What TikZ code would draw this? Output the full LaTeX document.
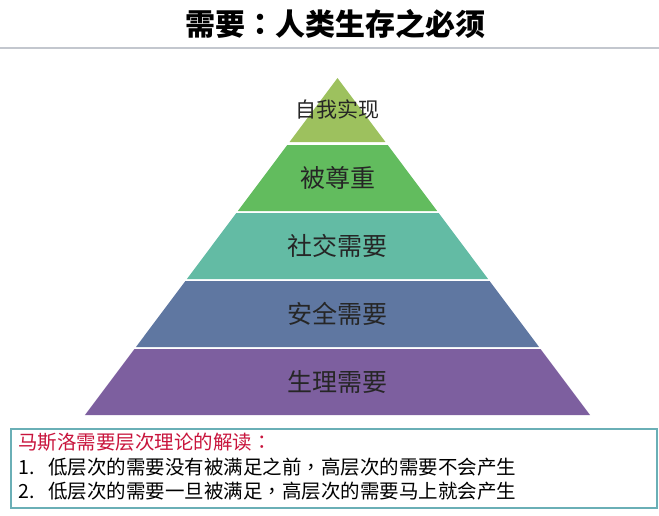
\documentclass[tikz,border=0pt]{standalone}
\usepackage{fontspec}
\setmainfont{Noto Sans CJK SC}
\newfontfamily\midpunct{Noto Sans CJK TC}
\newcommand{\colonmid}{{\midpunct ：}}
\newcommand{\commamid}{{\midpunct ，}}
\definecolor{selfgreen}{HTML}{9DC15E}
\definecolor{esteemgreen}{HTML}{62BC5E}
\definecolor{socialteal}{HTML}{63BBA4}
\definecolor{safeblue}{HTML}{5F77A1}
\definecolor{bodypurple}{HTML}{7D5F9F}
\definecolor{ruleline}{HTML}{C3C7CE}
\definecolor{boxteal}{HTML}{6AAFB6}
\definecolor{notered}{HTML}{C8143C}
\tikzset{
  heading/.style={font=\bfseries\fontsize{30}{32}\selectfont, text=black},
  layertext/.style={font=\fontsize{25}{27}\selectfont, text=black!85},
  notebox/.style={draw=boxteal, line width=1.8pt, minimum width=646pt,
    minimum height=79pt, inner sep=0pt},
  noteline/.style={anchor=west, font=\fontsize{19.5}{21}\selectfont, inner sep=0pt}
}
\begin{document}
\begin{tikzpicture}[x=1pt, y=-1pt]
  \useasboundingbox (0,0) rectangle (659,515);
  \node[heading] (title) at (335,24) {需要\colonmid 人类生存之必须};
  \draw[ruleline, line width=2pt] (0,48) -- (659,48);
  % pyramid bands: top y / bottom y / colour
  \foreach \a/\b/\c in {78/142/selfgreen, 145/211/esteemgreen,
      213/279/socialteal, 281/347/safeblue, 349/415/bodypurple}
    \fill[\c] ({337.5-0.7493*(\a-78)},\a) -- ({337.5+0.7493*(\a-78)},\a)
      -- ({337.5+0.7493*(\b-78)},\b) -- ({337.5-0.7493*(\b-78)},\b) -- cycle;
  \node[layertext, font=\fontsize{21}{23}\selectfont] (selfreal) at (337.5,109) {自我实现};
  \node[layertext] (esteem) at (337.5,178) {被尊重};
  \node[layertext] (social) at (337.5,246) {社交需要};
  \node[layertext] (safety) at (337.5,314) {安全需要};
  \node[layertext] (body) at (337.5,382) {生理需要};
  % explanation box
  \node[notebox] (note) at (334,468.5) {};
  \node[noteline, text=notered] (notehead) at (18,442) {马斯洛需要层次理论的解读\colonmid};
  \node[noteline] (noteone) at (18,467) {\makebox[30pt][l]{1.}低层次的需要没有被满足之前\commamid 高层次的需要不会产生};
  \node[noteline] (notetwo) at (18,491) {\makebox[30pt][l]{2.}低层次的需要一旦被满足\commamid 高层次的需要马上就会产生};
\end{tikzpicture}
\end{document}
